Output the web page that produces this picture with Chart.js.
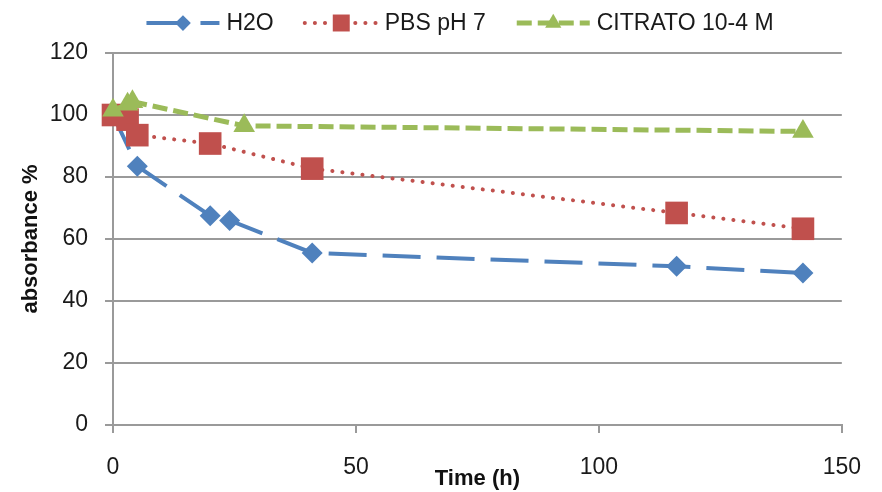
<!DOCTYPE html>
<html>
<head>
<meta charset="utf-8">
<script src="https://cdn.jsdelivr.net/npm/chart.js@4"></script>
<style>
  html, body { margin: 0; padding: 0; background: #fff; }
  #wrap { width: 882px; height: 492px; position: relative; }
</style>
</head>
<body>
<div id="wrap"><canvas id="chart"></canvas></div>
<script>
// Series names (legend order)
const seriesNames = ['H2O', 'PBS pH 7', 'CITRATO 10-4 M'];

// H2O
const h2oTime = [0, 5, 20, 24, 41, 116, 142];
const h2oAbs = [100, 83.5, 67.5, 66, 55.5, 51.2, 49];

// PBS pH 7
const pbsTime = [0, 3, 5, 20, 41, 116, 142];
const pbsAbs = [100, 98.5, 93.5, 90.8, 82.7, 68.4, 63.3];

// CITRATO 10-4 M
const citTime = [0, 3, 4, 27, 142];
const citAbs = [101.5, 103.5, 104.3, 96.5, 94.7];

// Axis ticks
const xTicks = [0, 50, 100, 150];
const yTicks = [0, 20, 40, 60, 80, 100, 120];

const FONT = '"Liberation Sans", Arial, sans-serif';
const GRID = '#9a9a9a';

function toPoints(xs, ys) {
    return xs.map((x, i) => ({ x: x, y: ys[i] }));
}

/**
 * Draw a marker shape for the legend
 */
function drawMarker(ctx, style, x, y, r) {
    ctx.beginPath();
    if (style === 'rectRot') {
        ctx.moveTo(x, y - r);
        ctx.lineTo(x + r, y);
        ctx.lineTo(x, y + r);
        ctx.lineTo(x - r, y);
    } else if (style === 'rect') {
        const s = r * Math.SQRT1_2;
        ctx.rect(x - s, y - s, 2 * s, 2 * s);
    } else {
        ctx.moveTo(x, y - r);
        ctx.lineTo(x + r * Math.sin(Math.PI / 3), y + r / 2);
        ctx.lineTo(x - r * Math.sin(Math.PI / 3), y + r / 2);
    }
    ctx.closePath();
    ctx.fill();
}

// Excel-like legend: line sample with marker, then label
const lineLegend = {
    id: 'lineLegend',
    afterDraw(chart) {
        const ctx = chart.ctx;
        const sets = chart.data.datasets;
        const sample = 73, gapText = 7, gapItem = 31, y = 23;
        ctx.save();
        ctx.font = '23px ' + FONT;
        const widths = sets.map(ds => ctx.measureText(ds.label).width);
        const total = widths.reduce((a, b) => a + b, 0) + sets.length * (sample + gapText) + (sets.length - 1) * gapItem;
        let x = 460 - total / 2;
        sets.forEach((ds, i) => {
            ctx.beginPath();
            ctx.setLineDash(ds.borderDash || []);
            ctx.lineCap = ds.borderCapStyle || 'butt';
            ctx.lineWidth = ds.borderWidth;
            ctx.strokeStyle = ds.borderColor;
            ctx.moveTo(x, y);
            ctx.lineTo(x + sample, y);
            ctx.stroke();
            ctx.setLineDash([]);
            ctx.fillStyle = ds.pointBackgroundColor;
            drawMarker(ctx, ds.pointStyle, x + sample / 2, y, ds.pointRadius * 0.75);
            ctx.fillStyle = '#1a1a1a';
            ctx.textBaseline = 'middle';
            ctx.textAlign = 'left';
            ctx.fillText(ds.label, x + sample + gapText, y + 1);
            x += sample + gapText + widths[i] + gapItem;
        });
        ctx.restore();
    }
};

const datasets = [
    {
        label: seriesNames[0],
        data: toPoints(h2oTime, h2oAbs),
        borderColor: '#4f81bd',
        backgroundColor: '#4f81bd',
        pointBackgroundColor: '#4f81bd',
        borderWidth: 4,
        borderDash: [38, 16],
        pointStyle: 'rectRot',
        pointRadius: 10.5,
        order: 2
    },
    {
        label: seriesNames[1],
        data: toPoints(pbsTime, pbsAbs),
        borderColor: '#c0504d',
        backgroundColor: '#c0504d',
        pointBackgroundColor: '#c0504d',
        borderWidth: 4,
        borderDash: [0.1, 10],
        borderCapStyle: 'round',
        pointStyle: 'rect',
        pointRadius: 16,
        order: 1
    },
    {
        label: seriesNames[2],
        data: toPoints(citTime, citAbs),
        borderColor: '#9bbb59',
        backgroundColor: '#9bbb59',
        pointBackgroundColor: '#9bbb59',
        borderWidth: 5,
        borderDash: [15, 6],
        pointStyle: 'triangle',
        pointRadius: 12.5,
        order: 0
    }
];
datasets.forEach(ds => {
    ds.pointBorderWidth = 0;
    ds.pointHoverRadius = ds.pointRadius;
    ds.tension = 0;
    ds.fill = false;
    ds.clip = false;
});

Chart.defaults.font.family = FONT;
Chart.defaults.color = '#1a1a1a';

new Chart(document.getElementById('chart'), {
    type: 'line',
    data: { datasets: datasets },
    plugins: [lineLegend],
    options: {
        responsive: true,
        maintainAspectRatio: false,
        animation: false,
        devicePixelRatio: 1,
        layout: { padding: { top: 53, right: 35, left: 0, bottom: 0 } },
        plugins: {
            legend: { display: false },
            tooltip: { enabled: false }
        },
        scales: {
            x: {
                type: 'linear',
                min: xTicks[0],
                max: xTicks[xTicks.length - 1],
                afterBuildTicks: scale => { scale.ticks = xTicks.map(v => ({ value: v })); },
                afterFit: scale => { scale.height = 67; },
                grid: { drawOnChartArea: false, drawTicks: true, tickLength: 8, color: GRID, lineWidth: 2 },
                border: { display: true, color: GRID, width: 2 },
                ticks: { font: { size: 23 }, padding: 21, color: '#1a1a1a' },
                title: {
                    display: true,
                    text: 'Time (h)',
                    font: { size: 22, weight: 'bold' },
                    padding: { top: 0, bottom: 0 },
                    color: '#111'
                }
            },
            y: {
                type: 'linear',
                min: yTicks[0],
                max: yTicks[yTicks.length - 1],
                afterBuildTicks: scale => { scale.ticks = yTicks.map(v => ({ value: v })); },
                afterFit: scale => { scale.width = 113; },
                grid: { drawTicks: true, tickLength: 8, color: GRID, lineWidth: 2 },
                border: { display: true, color: GRID, width: 2 },
                ticks: { font: { size: 23 }, padding: 17, color: '#1a1a1a' },
                title: {
                    display: true,
                    text: 'absorbance %',
                    font: { size: 22, weight: 'bold' },
                    padding: { top: 18, bottom: 0 },
                    color: '#111'
                }
            }
        }
    }
});
</script>
</body>
</html>
